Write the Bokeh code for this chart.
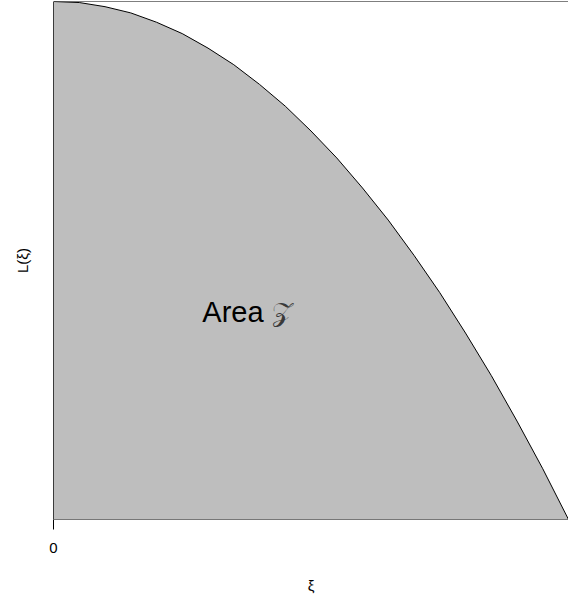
from bokeh.plotting import figure
from bokeh.models import FixedTicker, Range1d, Span
from bokeh.core.properties import value
from bokeh.embed import file_html
from bokeh.resources import INLINE

# Curve L(xi), sampled along the horizontal axis
xi = [0.00, 0.05, 0.10, 0.15, 0.20, 0.25, 0.30, 0.35, 0.40, 0.45, 0.50,
      0.55, 0.60, 0.65, 0.70, 0.75, 0.80, 0.85, 0.90, 0.95, 1.00]
L = [1.000, 0.998, 0.990, 0.978, 0.960, 0.938, 0.910, 0.878, 0.840, 0.798, 0.750,
     0.698, 0.640, 0.578, 0.510, 0.438, 0.360, 0.278, 0.190, 0.098, 0.000]
x_ticks = [0]
x_tick_labels = {0: "0"}

FONT = "Liberation Sans"

p = figure(width=568, height=598, output_backend="svg", toolbar_location=None,
           x_range=Range1d(0, 1), y_range=Range1d(0, 1),
           min_border_left=53, min_border_right=0, min_border_top=1, min_border_bottom=79)

p.xgrid.visible = False
p.ygrid.visible = False
p.outline_line_color = None
p.background_fill_color = "white"
p.border_fill_color = "white"

# frame lines on the top and left sides
p.add_layout(Span(location=1, dimension="width", line_color="black", line_width=1))
p.add_layout(Span(location=0, dimension="height", line_color="black", line_width=1))

# shaded region under the curve
px = xi + [xi[-1], xi[0]]
py = L + [0.0, 0.0]
p.patch(px, py, fill_color="#bebebe", line_color="black", line_width=1)

p.text(x=[0.289], y=[0.401], text=["Area"], text_font=value(FONT),
       text_font_size="29px", text_color="black", text_baseline="alphabetic",
       text_align="left")
p.text(x=[0.425], y=[0.401], text=["\U0001D4B5"], text_font=value("DejaVu Serif"),
       text_font_size="27px", text_color="#3a3a3a", text_baseline="alphabetic",
       text_align="left")

# x axis: single tick at the origin
xa = p.xaxis[0]
xa.ticker = FixedTicker(ticks=x_ticks)
xa.major_label_overrides = x_tick_labels
xa.axis_line_color = None
xa.major_tick_out = 10
xa.major_tick_in = 0
xa.major_tick_line_color = "black"
xa.minor_tick_line_color = None
xa.major_label_standoff = 13
xa.major_label_text_font = FONT
xa.major_label_text_font_size = "15px"
xa.major_label_text_color = "black"
xa.axis_label = "ξ"
xa.axis_label_text_font = FONT
xa.axis_label_text_font_size = "15px"
xa.axis_label_text_font_style = "normal"
xa.axis_label_text_color = "black"
xa.axis_label_standoff = 21

# y axis: label only
ya = p.yaxis[0]
ya.ticker = FixedTicker(ticks=[])
ya.axis_line_color = None
ya.major_tick_line_color = None
ya.minor_tick_line_color = None
ya.axis_label = "L(ξ)"
ya.axis_label_text_font = FONT
ya.axis_label_text_font_size = "15px"
ya.axis_label_text_font_style = "normal"
ya.axis_label_text_color = "black"
ya.axis_label_standoff = 23

open("out.html", "w").write(file_html(p, INLINE))
